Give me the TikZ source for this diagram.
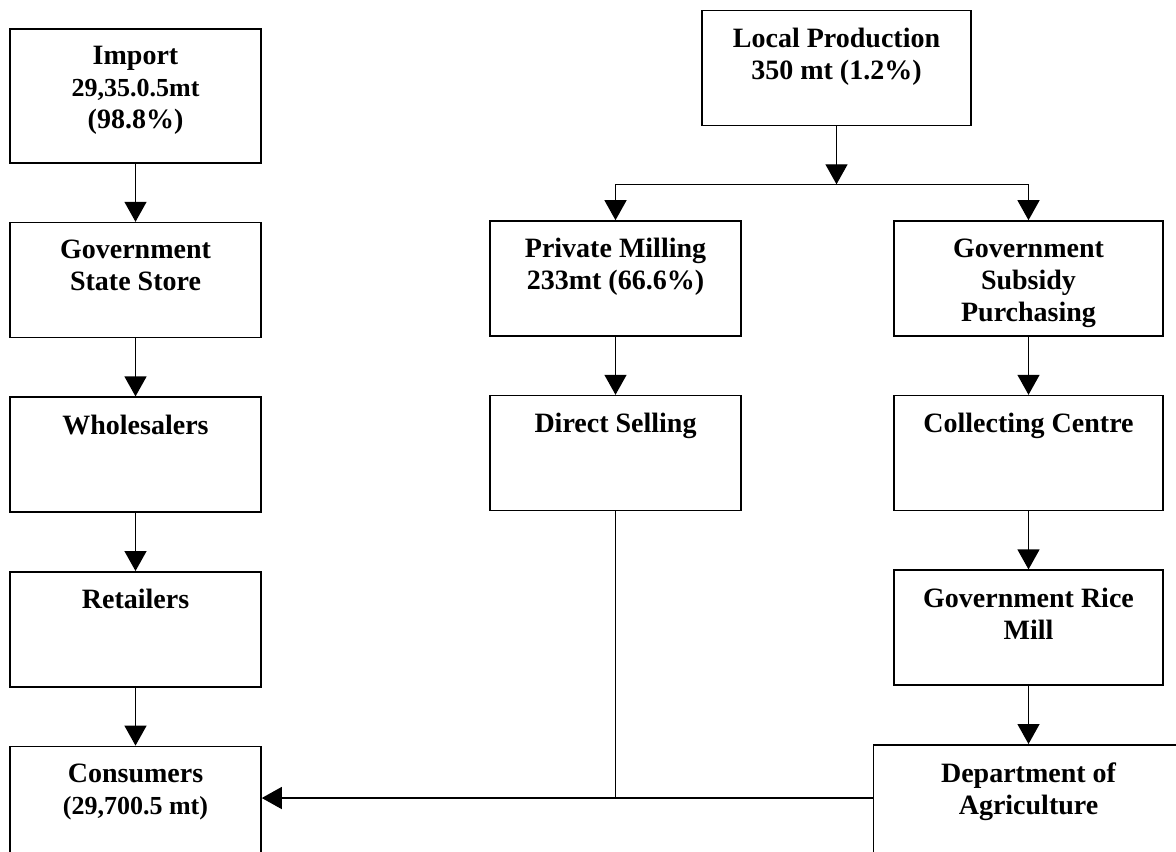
\documentclass[tikz,border=0pt]{standalone}
\usepackage{fontspec}
\setmainfont{Liberation Serif}
\usetikzlibrary{positioning,arrows.meta}

\newcommand{\boxfont}{\bfseries\fontsize{21}{24}\selectfont}
\newcommand{\subline}{\fontsize{19.5}{24}\selectfont}

\begin{document}
\begin{tikzpicture}[x=0.75pt, y=-0.75pt, node distance=43.5pt,
    box/.style={draw, line width=1.2pt, inner sep=0pt, minimum width=188.25pt, minimum height=86.25pt},
    wide/.style={minimum width=201.75pt},
    tall/.style={minimum height=100.5pt},
    caption/.style={label={[anchor=north, yshift=-13.5pt, align=center, inner sep=0pt, font=\boxfont]north:{#1}}},
    arr/.style={line width=1pt, -{Triangle[length=15pt, width=16.5pt]}}]
    \path[use as bounding box, fill=white] (0,0) rectangle (1176,851);

    % import chain
    \node[box, tall, caption={Import\\{\subline 29,35.0.5mt}\\(98.8\%)}] (import) at (135.5,96) {};
    \node[box, caption={Government\\State Store}, below=of import] (gss) {};
    \node[box, caption=Wholesalers, below=of gss] (whole) {};
    \node[box, caption=Retailers, below=of whole] (retail) {};
    \node[box, tall, caption={Consumers\\{\subline (29,700.5 mt)}}, below=of retail] (cons) {};

    % local production chain
    \node[box, wide, caption={Local Production\\350 mt (1.2\%)}] (local) at (836.5,68) {};
    \coordinate (split) at ([yshift=-43.5pt]local.south);
    \node[box, caption={Private Milling\\233mt (66.6\%)}] (pmill) at (615.5,278.5) {};
    \node[box, wide, caption={Government\\Subsidy\\Purchasing}] (gsub) at (1028.5,278.5) {};
    \node[box, caption=Direct Selling, below=of pmill] (direct) {};
    \node[box, wide, caption=Collecting Centre, below=of gsub] (collect) {};
    \node[box, wide, caption={Government Rice\\Mill}, below=of collect] (ricemill) {};
    \node[box, tall, minimum width=232.5pt, caption={Department of\\Agriculture}, below=of ricemill] (dept) {};
    \coordinate (meet) at (direct.south |- 0,798);

    \draw[arr] (import) -- (gss);
    \draw[arr] (gss) -- (whole);
    \draw[arr] (whole) -- (retail);
    \draw[arr] (retail) -- (cons);

    \draw[arr] (local) -- (split);
    \draw[arr] (split) -| (pmill.north);
    \draw[arr] (split) -| (gsub.north);
    \draw[arr] (pmill) -- (direct);
    \draw[arr] (gsub) -- (collect);
    \draw[arr] (collect) -- (ricemill);
    \draw[arr] (ricemill) -- (dept);

    \draw[line width=1pt] (direct.south) -- (meet);
    \draw[arr] (dept.west |- meet) -- (cons.east |- meet);
\end{tikzpicture}
\end{document}
